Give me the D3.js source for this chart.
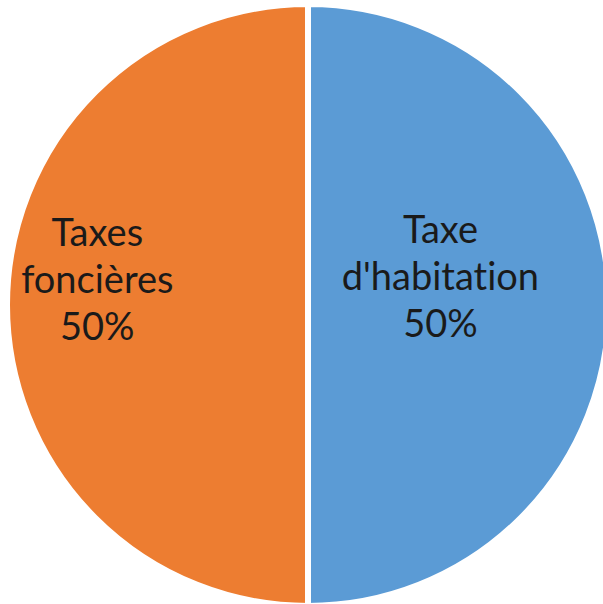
<!DOCTYPE html>
<html lang="fr">
  <head>
    <meta charset="UTF-8" />
    <title>Taxes</title>
    <script src="https://d3js.org/d3.v7.min.js"></script>
    <style>
      body { margin: 0; background: #fff; }
      text { font-variant-ligatures: none; }
    </style>
  </head>
  <body>
    <div id="chart"></div>

    <script>
      // data
      const categories = ["Taxe d'habitation", "Taxes foncières"];
      const values = [50, 50];
      const labelLines = [["Taxe", "d'habitation"], ["Taxes", "foncières"]];
      const colors = ["#5b9bd5", "#ed7d31"];

      const width = 603, height = 604;
      const cx = 308, cy = 305, radius = 301;
      // how far from centre each label sits (fraction of radius)
      const labelRadius = [0.44, 0.7];

      const data = categories.map((c, i) => ({ name: c, value: values[i], i }));
      const total = d3.sum(values);

      const svg = d3
        .select("#chart")
        .append("svg")
        .attr("width", width)
        .attr("height", height)
        .append("g")
        .attr("transform", `translate(${cx},${cy})`);

      const pie = d3.pie().sort(null).value((d) => d.value);
      const arc = d3.arc().innerRadius(0).outerRadius(radius);
      const arcs = pie(data);

      svg
        .selectAll("path")
        .data(arcs)
        .join("path")
        .attr("d", arc)
        .attr("fill", (d) => colors[d.data.i])
        .attr("stroke", "#fff")
        .attr("stroke-width", 6);

      const lineH = 47;
      const labels = svg
        .selectAll("text.lbl")
        .data(arcs)
        .join("text")
        .attr("class", "lbl")
        .attr("font-family", "Lato, 'Open Sans', sans-serif")
        .attr("font-size", 38)
        .attr("fill", "#1a1a1a")
        .attr("text-anchor", "middle")
        .attr("transform", (d) => {
          const a = (d.startAngle + d.endAngle) / 2;
          const r = radius * labelRadius[d.data.i];
          return `translate(${Math.sin(a) * r},${-Math.cos(a) * r})`;
        });

      labels.each(function (d) {
        const t = d3.select(this);
        const lines = labelLines[d.data.i].concat(
          Math.round((d.data.value / total) * 100) + "%"
        );
        lines.forEach((l, k) => {
          t.append("tspan")
            .attr("x", 0)
            .attr("y", (k - 1) * lineH + (d.data.i === 1 ? 0 : -3) - 12)
            .text(l);
        });
      });
    </script>
  </body>
</html>
